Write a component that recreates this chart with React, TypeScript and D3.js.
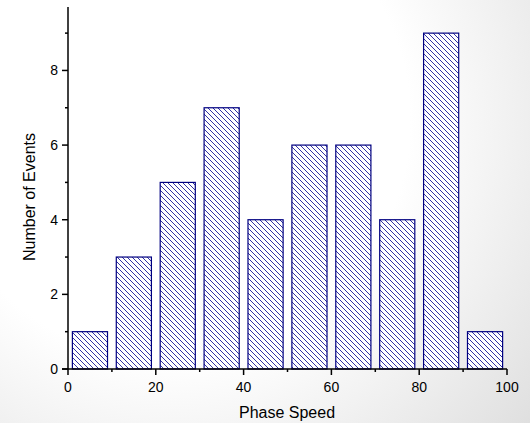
import React from "react";
import * as d3 from "d3";

const binStarts = [0, 10, 20, 30, 40, 50, 60, 70, 80, 90];
const counts = [1, 3, 5, 7, 4, 6, 6, 4, 9, 1];
const xMajorTicks = [0, 20, 40, 60, 80, 100];
const xMinorTicks = [10, 30, 50, 70, 90];
const yMajorTicks = [0, 2, 4, 6, 8];
const yMinorTicks = [1, 3, 5, 7, 9];
const xTitle = "Phase Speed";
const yTitle = "Number of Events";

const W = 530;
const H = 423;

export default function App() {
  const x = d3.scaleLinear().domain([0, 100]).range([68, 507]);
  const y = d3.scaleLinear().domain([0, 9.7]).range([369, 7]);
  const y0 = y(0);
  const navy = "#000080";
  const font = "'Liberation Sans', Arial, sans-serif";
  const s = 5;

  return (
    <svg width={W} height={H} style={{ position: "absolute", left: 0, top: 0 }}>
      <defs>
        <radialGradient id="bg" gradientUnits="userSpaceOnUse" cx={170} cy={120} r={480}>
          <stop offset="0.5" stopColor="#ffffff" />
          <stop offset="1" stopColor="#dedede" />
        </radialGradient>
        <pattern id="hatch" patternUnits="userSpaceOnUse" width={s} height={s}>
          <rect width={s} height={s} fill="#ffffff" />
          <path
            d={`M-1,-1 L${s + 1},${s + 1} M-1,${s - 1} L1,${s + 1} M${s - 1},-1 L${s + 1},1`}
            stroke="#1c1c9a"
            strokeWidth={0.9}
          />
        </pattern>
      </defs>
      <rect x={0} y={0} width={W} height={H} fill="url(#bg)" />

      {binStarts.map((b, i) => (
        <rect
          key={i}
          x={x(b + 1)}
          y={y(counts[i])}
          width={x(b + 9) - x(b + 1)}
          height={y0 - y(counts[i])}
          fill="url(#hatch)"
          stroke={navy}
          strokeWidth={1.2}
        />
      ))}

      <line x1={x(0)} x2={x(0)} y1={y0} y2={7} stroke="#000" strokeWidth={1.5} />
      <line x1={x(0) - 6} x2={x(100)} y1={y0} y2={y0} stroke="#000" strokeWidth={1.5} />

      {yMajorTicks.map((t) => (
        <g key={"ym" + t}>
          <line x1={x(0) - 6} x2={x(0)} y1={y(t)} y2={y(t)} stroke="#000" strokeWidth={1.5} />
          <text x={x(0) - 10} y={y(t) + 5} textAnchor="end" fontSize={14} fontFamily={font} fill="#000">
            {t}
          </text>
        </g>
      ))}
      {yMinorTicks.map((t) => (
        <line key={"yn" + t} x1={x(0) - 3} x2={x(0)} y1={y(t)} y2={y(t)} stroke="#000" strokeWidth={1.5} />
      ))}
      {xMajorTicks.map((t) => (
        <g key={"xm" + t}>
          <line x1={x(t)} x2={x(t)} y1={y0} y2={y0 + 6} stroke="#000" strokeWidth={1.5} />
          <text x={x(t)} y={392} textAnchor="middle" fontSize={14} fontFamily={font} fill="#000">
            {t}
          </text>
        </g>
      ))}
      {xMinorTicks.map((t) => (
        <line key={"xn" + t} x1={x(t)} x2={x(t)} y1={y0} y2={y0 + 3} stroke="#000" strokeWidth={1.5} />
      ))}

      <text x={287} y={418} textAnchor="middle" fontSize={16} fontFamily={font} fill="#000">
        {xTitle}
      </text>
      <text
        transform={`translate(35,197) rotate(-90)`}
        textAnchor="middle"
        fontSize={16}
        fontFamily={font}
        fill="#000"
      >
        {yTitle}
      </text>
    </svg>
  );
}
